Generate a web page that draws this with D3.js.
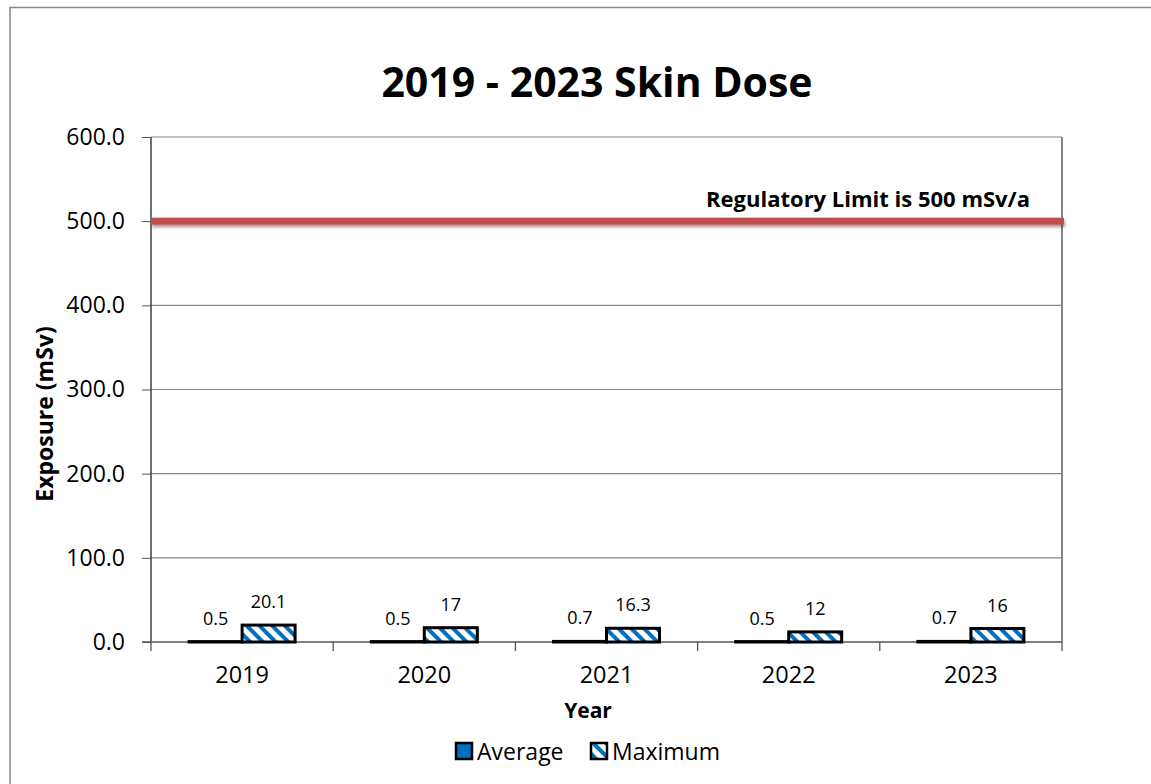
<!DOCTYPE html>
<html><head><meta charset="utf-8">
<script src="https://cdn.jsdelivr.net/npm/d3@7"></script>
<style>body{margin:0;background:#fff}svg{display:block}text{font-family:"Open Sans",sans-serif;fill:#000}</style>
</head><body><svg id="c" width="1151" height="784"></svg>
<script>
const categories = ["2019","2020","2021","2022","2023"];
const average = [0.5,0.5,0.7,0.5,0.7];
const maximum = [20.1,17,16.3,12,16];
const maxLabels = ["20.1","17","16.3","12","16"];
const avgLabels = ["0.5","0.5","0.7","0.5","0.7"];
const yTicks = [0,100,200,300,400,500,600];
const limitValue = 500;
const limitLabel = "Regulatory Limit is 500 mSv/a";
const seriesNames = ["Average","Maximum"];

const svg = d3.select("#c");
const defs = svg.append("defs");
const pat = defs.append("pattern").attr("id","hatch").attr("patternUnits","userSpaceOnUse")
  .attr("width",9).attr("height",9).attr("patternTransform","rotate(-45)");
pat.append("rect").attr("width",9).attr("height",9).attr("fill","#fff");
pat.append("rect").attr("width",4).attr("height",9).attr("fill","#0070C0");
const f = defs.append("filter").attr("id","sh").attr("filterUnits","userSpaceOnUse")
  .attr("x",100).attr("y",200).attr("width",1000).attr("height",50);
f.append("feDropShadow").attr("dx",1).attr("dy",2.5).attr("stdDeviation",1.6).attr("flood-color","#000").attr("flood-opacity",0.4);

// outer border
svg.append("rect").attr("x",10).attr("y",7.5).attr("width",1160).attr("height",800)
  .attr("fill","none").attr("stroke","#868686").attr("stroke-width",1.5);

const L=151,R=1062,T=137,B=642;
const x = d3.scaleBand().domain(categories).range([L,R]);
const y = d3.scaleLinear().domain([0,600]).range([B,T]);

// gridlines
svg.append("g").selectAll("line").data(yTicks.filter(d=>d>0)).join("line")
  .attr("x1",L).attr("x2",R).attr("y1",d=>y(d)).attr("y2",d=>y(d))
  .attr("stroke","#868686").attr("stroke-width",1.2);
// right border
svg.append("line").attr("x1",R).attr("x2",R).attr("y1",T).attr("y2",B).attr("stroke","#868686").attr("stroke-width",2);

// y axis
const ya = svg.append("g").attr("transform",`translate(${L},0)`)
  .call(d3.axisLeft(y).tickValues(yTicks).tickFormat(d3.format(".1f")).tickSize(9).tickPadding(17));
ya.select(".domain").attr("stroke","#222").attr("stroke-width",1.3).attr("d",`M0,${T}V${B}`);
ya.selectAll(".tick line").attr("stroke","#555");
ya.selectAll("text").attr("font-size",23).attr("fill","#000").attr("font-family","Open Sans");

// x axis
const xa = svg.append("g").attr("transform",`translate(0,${B})`)
  .call(d3.axisBottom(x).tickSize(0).tickPadding(24));
xa.select(".domain").remove();
xa.selectAll("text").attr("font-size",23.5).attr("fill","#000").attr("font-family","Open Sans");
svg.append("line").attr("x1",L-9).attr("x2",R).attr("y1",B).attr("y2",B).attr("stroke","#555").attr("stroke-width",1.3);
svg.append("g").selectAll("line").data(d3.range(categories.length+1)).join("line")
  .attr("x1",i=>L+i*x.step()).attr("x2",i=>L+i*x.step()).attr("y1",B).attr("y2",B+9)
  .attr("stroke","#555").attr("stroke-width",1.3);

// bars
const bw = 53;
const g = svg.append("g");
g.selectAll(".avg").data(categories).join("rect")
  .attr("x",d=>x(d)+x.bandwidth()/2-bw).attr("width",bw)
  .attr("y",(d,i)=>y(average[i])).attr("height",(d,i)=>B-y(average[i]))
  .attr("fill","#0070C0").attr("stroke","#000").attr("stroke-width",3);
g.selectAll(".max").data(categories).join("rect")
  .attr("x",d=>x(d)+x.bandwidth()/2).attr("width",bw)
  .attr("y",(d,i)=>y(maximum[i])).attr("height",(d,i)=>B-y(maximum[i]))
  .attr("fill","url(#hatch)").attr("stroke","#000").attr("stroke-width",3);
g.selectAll(".al").data(categories).join("text")
  .attr("x",d=>x(d)+x.bandwidth()/2-bw/2).attr("y",(d,i)=>y(average[i])-17)
  .attr("text-anchor","middle").attr("font-family","Lato").attr("font-size",18).text((d,i)=>avgLabels[i]);
g.selectAll(".ml").data(categories).join("text")
  .attr("x",d=>x(d)+x.bandwidth()/2+bw/2).attr("y",(d,i)=>y(maximum[i])-17)
  .attr("text-anchor","middle").attr("font-family","Lato").attr("font-size",18).text((d,i)=>maxLabels[i]);

// limit line
svg.append("rect").attr("x",L).attr("width",R+2-L).attr("y",y(limitValue)-3.5).attr("height",7)
  .attr("fill","#C0504D").attr("filter","url(#sh)");
svg.append("text").attr("x",1030).attr("y",y(limitValue)-14).attr("text-anchor","end")
  .attr("font-family","Lato").attr("font-size",22).attr("font-weight","bold").text(limitLabel);

// titles
svg.append("text").attr("x",597).attr("y",97).attr("text-anchor","middle")
  .attr("font-size",41).attr("font-weight","bold").text("2019 - 2023 Skin Dose");
svg.append("text").attr("x",588).attr("y",718).attr("text-anchor","middle")
  .attr("font-size",21).attr("font-weight","bold").text("Year");
svg.append("text").attr("transform","translate(53,414) rotate(-90)").attr("text-anchor","middle")
  .attr("font-size",23).attr("font-weight","bold").text("Exposure (mSv)");

// legend
const lg = svg.append("g");
const lx = [456,591];
lg.selectAll("rect").data(seriesNames).join("rect")
  .attr("x",(d,i)=>lx[i]).attr("y",743).attr("width",16).attr("height",16)
  .attr("fill",(d,i)=>i===0?"#0070C0":"url(#hatch)").attr("stroke","#000").attr("stroke-width",2.5);
lg.selectAll("text").data(seriesNames).join("text")
  .attr("x",(d,i)=>lx[i]+21).attr("y",760).attr("font-size",23).text(d=>d);
</script></body></html>
